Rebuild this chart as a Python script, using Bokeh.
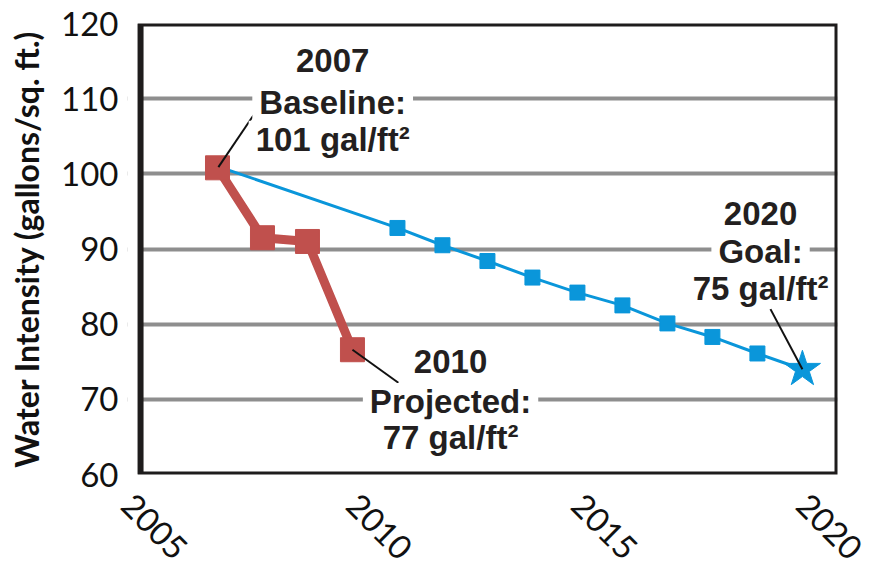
from bokeh.plotting import figure
from bokeh.models import Range1d, FixedTicker, Label, BoxAnnotation
from bokeh.embed import file_html
from bokeh.resources import INLINE
import math

# ---- data ----
years_actual = [2007, 2008, 2009, 2010]
intensity_actual = [100.8, 91.5, 91.0, 76.6]

years_goal = [2007, 2011, 2012, 2013, 2014, 2015, 2016, 2017, 2018, 2019, 2020]
intensity_goal = [101.0, 92.8, 90.5, 88.4, 86.2, 84.2, 82.5, 80.1, 78.3, 76.1, 74.0]

x_ticks = [2005, 2010, 2015, 2020]
y_ticks = [60, 70, 80, 90, 100, 110, 120]

# annotation texts (one entry per line) and their anchor positions in data units
note_lines = ["2007", "Baseline:", "101 gal/ft\u00b2",
              "2010", "Projected:", "77 gal/ft\u00b2",
              "2020", "Goal:", "75 gal/ft\u00b2"]
note_x = [2009.56, 2009.56, 2009.56,
          2012.18, 2012.18, 2012.18,
          2019.07, 2019.07, 2019.07]
note_y = [115.1, 109.5, 104.6,
          75.0, 69.7, 64.9,
          94.7, 89.7, 84.8]

# callout leader lines (start -> end) in data units
call_x0 = [2007.8, 2010.0, 2019.29]
call_y0 = [107.8, 76.6, 82.0]
call_x1 = [2007.02, 2011.02, 2020.0]
call_y1 = [100.9, 72.2, 74.0]

# visible chart box starts a little right of the first (2005) tick
box_left = 2005.29

RED = "#C0504D"
BLUE = "#0A96DA"
GRID = "#8E8E8E"
DARK = "#1E1C1C"

p = figure(width=871, height=577, output_backend="svg", toolbar_location=None,
           x_range=Range1d(2005.0, 2020.78), y_range=Range1d(60, 120),
           min_border_left=127, min_border_right=34, min_border_top=23,
           min_border_bottom=103)

p.background_fill_color = "white"
p.border_fill_color = "white"
p.outline_line_color = None

p.xgrid.visible = False
p.ygrid.ticker = FixedTicker(ticks=y_ticks)
p.ygrid.grid_line_color = GRID
p.ygrid.grid_line_width = 4

# axes
p.yaxis.ticker = FixedTicker(ticks=y_ticks)
p.yaxis.axis_line_color = None
p.yaxis.major_tick_line_color = None
p.yaxis.minor_tick_line_color = None
p.yaxis.major_label_text_font = "Lato"
p.yaxis.major_label_text_font_size = "33px"
p.yaxis.major_label_text_color = "#111111"
p.yaxis.major_label_standoff = 3
p.yaxis.axis_label = "Water Intensity (gallons/sq. ft.)"
p.yaxis.axis_label_text_font = "Lato"
p.yaxis.axis_label_text_font_style = "bold"
p.yaxis.axis_label_text_font_size = "32px"
p.yaxis.axis_label_text_color = "#111111"
p.yaxis.axis_label_standoff = 12

p.xaxis.ticker = FixedTicker(ticks=x_ticks)
p.xaxis.axis_line_color = None
p.xaxis.major_tick_line_color = None
p.xaxis.minor_tick_line_color = None
p.xaxis.major_label_text_font = "Lato"
p.xaxis.major_label_text_font_size = "33px"
p.xaxis.major_label_text_color = "#111111"
p.xaxis.major_label_orientation = -math.pi / 4
p.xaxis.major_label_standoff = 19

# goal trajectory (blue)
p.line(years_goal, intensity_goal, line_color=BLUE, line_width=3)
p.scatter(years_goal[1:-1], intensity_goal[1:-1], marker="square", size=15,
          fill_color=BLUE, line_color=BLUE)
p.scatter(years_goal[-1:], intensity_goal[-1:], marker="star", size=38,
          fill_color=BLUE, line_color=BLUE)

# actual / projected (red)
p.line(years_actual, intensity_actual, line_color=RED, line_width=9,
       line_join="round")
p.scatter(years_actual, intensity_actual, marker="square", size=24,
          fill_color=RED, line_color=RED)

# callout leader lines
p.segment(call_x0, call_y0, call_x1, call_y1, line_color="#111111", line_width=2)

# annotation text with white background breaking the gridlines
for t, x, y in zip(note_lines, note_x, note_y):
    p.add_layout(Label(x=x, y=y, text=t, text_align="center", text_baseline="middle",
                       text_font="Liberation Sans", text_font_style="bold",
                       text_font_size="33px", text_color="#231F20",
                       background_fill_color="white", padding=(7, 0)))

# white strip left of the chart box, then the black chart box itself
p.add_layout(BoxAnnotation(right=box_left, fill_color="white", fill_alpha=1.0,
                           line_color=None, line_alpha=0.0))
p.add_layout(BoxAnnotation(left=box_left, fill_alpha=0.0, fill_color=None,
                           line_color=DARK, line_alpha=1.0, line_width=6))

open("out.html", "w").write(file_html(p, INLINE))
